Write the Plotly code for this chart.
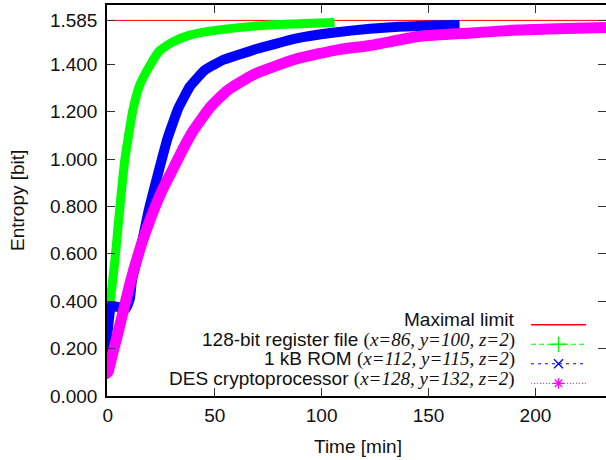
import plotly.graph_objects as go

# ---- data ----
max_limit = 1.585

t_reg = [-1.5, 0, 1.9, 3.3, 5.5, 7.9, 11.7, 14.9, 19.6, 24.2, 30.5, 38.3, 53.8, 77.2, 92, 106]
h_reg = [0.17, 0.32, 0.46, 0.573, 0.784, 0.995, 1.206, 1.312, 1.394, 1.457, 1.495, 1.523, 1.547, 1.567, 1.572, 1.576]

t_rom = [-1.8, 0, 1.5, 5, 8.5, 10.3, 11.3, 13.5, 16.1, 19.1, 23.1, 28, 33, 38.3, 45.3, 53.8, 69.4, 88.2, 105, 122.5, 136, 150.5, 164.5]
h_rom = [0.14, 0.28, 0.38, 0.375, 0.37, 0.41, 0.49, 0.57, 0.655, 0.784, 0.925, 1.09, 1.215, 1.305, 1.375, 1.418, 1.464, 1.509, 1.533, 1.55, 1.558, 1.563, 1.566]

t_des = [-1.5, 0, 2, 4, 7, 10.5, 15.7, 20, 25, 30, 35, 40, 48, 56, 69, 88, 108, 122.5, 146, 170, 189, 210, 233]
h_des = [0.09, 0.10, 0.17, 0.24, 0.35, 0.48, 0.64, 0.75, 0.86, 0.95, 1.04, 1.12, 1.22, 1.29, 1.36, 1.422, 1.462, 1.479, 1.518, 1.532, 1.543, 1.55, 1.555]

x_range = [-0.4, 233]
y_range = [0, 1.650]
x_ticks = [0, 50, 100, 150, 200]
y_ticks = [0.0, 0.2, 0.4, 0.6, 0.8, 1.0, 1.2, 1.4, 1.585]
y_tick_text = ["0.000", "0.200", "0.400", "0.600", "0.800", "1.000", "1.200", "1.400", "1.585"]

SERIF = "font-family:'Liberation Serif', 'Times New Roman', serif"
labels = [
    "Maximal limit",
    f"128-bit register file <span style=\"{SERIF}\">(<i>x=86, y=100, z=2</i>)</span>",
    f"1 kB ROM <span style=\"{SERIF}\">(<i>x=112, y=115, z=2</i>)</span>",
    f"DES cryptoprocessor <span style=\"{SERIF}\">(<i>x=128, y=132, z=2</i>)</span>",
]
x_title = "Time [min]"
y_title = "Entropy [bit]"

RED, GREEN, BLUE, MAG = "#ff0000", "#00ff00", "#0000ff", "#ff00ff"
FONT = "Liberation Sans, Arial, sans-serif"

fig = go.Figure()

# data traces
fig.add_trace(go.Scatter(x=x_range, y=[max_limit, max_limit], mode="lines",
                         line=dict(color=RED, width=1), showlegend=False, hoverinfo="skip"))
fig.add_trace(go.Scatter(x=t_reg, y=h_reg, mode="lines",
                         line=dict(color=GREEN, width=9, shape="spline", smoothing=0.5), showlegend=False))
fig.add_trace(go.Scatter(x=t_rom, y=h_rom, mode="lines",
                         line=dict(color=BLUE, width=10, shape="spline", smoothing=0.3), showlegend=False))
fig.add_trace(go.Scatter(x=t_des, y=h_des, mode="lines",
                         line=dict(color=MAG, width=11, shape="spline", smoothing=0.5), showlegend=False))

# legend-only traces (symbols); texts are annotations to the left
fig.add_trace(go.Scatter(x=[None], y=[None], mode="lines", name=" ",
                         line=dict(color=RED, width=1.5)))
fig.add_trace(go.Scatter(x=[None], y=[None], mode="lines+markers", name=" ",
                         line=dict(color=GREEN, width=1, dash="5px,3px"),
                         marker=dict(symbol="cross-thin-open", size=11, line=dict(color=GREEN, width=1.3))))
fig.add_trace(go.Scatter(x=[None], y=[None], mode="lines+markers", name=" ",
                         line=dict(color=BLUE, width=1, dash="3px,4px"),
                         marker=dict(symbol="x-thin-open", size=9, line=dict(color=BLUE, width=1.3))))
fig.add_trace(go.Scatter(x=[None], y=[None], mode="lines+markers", name=" ",
                         line=dict(color=MAG, width=1, dash="1px,2px"),
                         marker=dict(symbol="asterisk-open", size=9, line=dict(color=MAG, width=1.3))))

W, H = 606, 460
ml, mr, mt, mb = 107, 0, 5, 64
pw, ph = W - ml - mr, H - mt - mb


def px_x(p):
    return (p - ml) / pw


def px_y(p):
    return (H - mb - p) / ph


row_px = [319.7, 339.5, 359.0, 378.5]
for lab, ry in zip(labels, row_px):
    fig.add_annotation(xref="paper", yref="paper", x=px_x(517), y=px_y(ry), text=lab,
                       showarrow=False, xanchor="right", yanchor="middle",
                       font=dict(family=FONT, size=19, color="#111"))

fig.add_annotation(xref="paper", yref="paper", x=px_x(358), y=px_y(446), text=x_title,
                   showarrow=False, xanchor="center", yanchor="middle",
                   font=dict(family=FONT, size=19, color="#111"))
fig.add_annotation(xref="paper", yref="paper", x=px_x(17), y=px_y(201), text=y_title,
                   showarrow=False, xanchor="center", yanchor="middle", textangle=-90,
                   font=dict(family=FONT, size=19, color="#111"))

fig.update_layout(
    width=W, height=H,
    margin=dict(l=ml, r=mr, t=mt, b=mb, autoexpand=False),
    plot_bgcolor="white", paper_bgcolor="white",
    font=dict(family=FONT, size=19, color="#111"),
    legend=dict(x=px_x(526), y=px_y(310), xanchor="left", yanchor="top",
                bgcolor="rgba(0,0,0,0)", borderwidth=0, itemwidth=55,
                font=dict(size=12.7), tracegroupgap=0),
    xaxis=dict(range=x_range, tickvals=x_ticks, ticks="inside", ticklen=8, tickwidth=1,
               tickcolor="#333", showline=True, linecolor="black", linewidth=1.5, mirror="ticks",
               showgrid=False, zeroline=False, automargin=False, ticklabelstandoff=1),
    yaxis=dict(range=y_range, tickvals=y_ticks, ticktext=y_tick_text, ticks="inside", ticklen=8,
               tickwidth=1, tickcolor="#333", showline=True, linecolor="black", linewidth=1.5,
               mirror="ticks", showgrid=False, zeroline=False, automargin=False,
               ticklabelstandoff=4),
)

fig.write_html("out.html", config={"displayModeBar": False},
               post_script="document.body.style.margin='0';document.body.style.overflow='hidden';")
